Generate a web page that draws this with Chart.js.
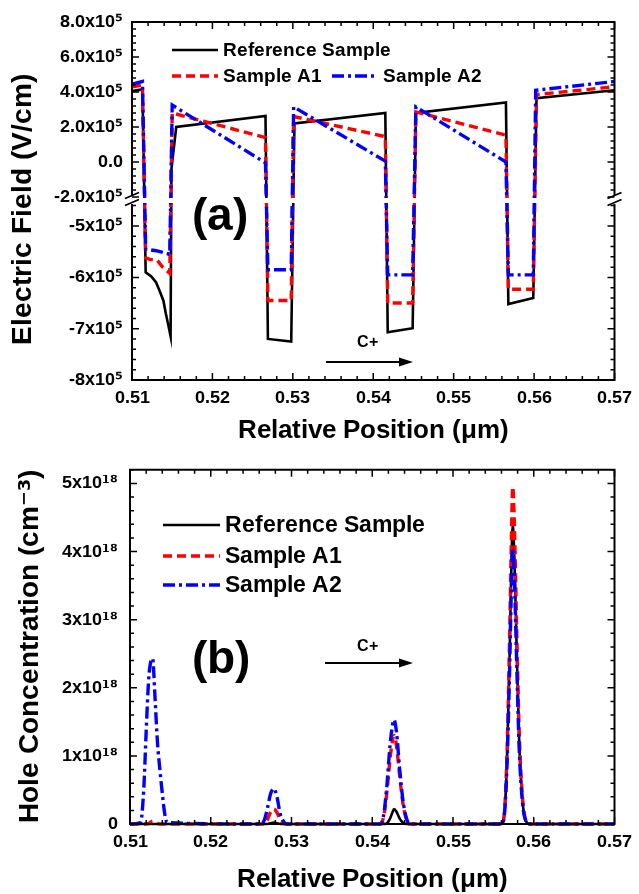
<!DOCTYPE html>
<html><head><meta charset="utf-8">
<script src="https://cdn.jsdelivr.net/npm/chart.js@4.4.1/dist/chart.umd.min.js"></script>
<style>
@font-face { font-family: 'LabSup'; src: local('Liberation Sans Bold'), local('LiberationSans-Bold'); font-weight: bold; }
@font-face { font-family: 'LabSup'; src: local('DejaVu Sans Bold'), local('DejaVuSans-Bold'); font-weight: bold; unicode-range: U+00B2-00B3, U+00B9, U+2070-209F; }
html,body{margin:0;padding:0;background:#fff;}
#wrap{position:relative;width:639px;height:894px;overflow:hidden;}
.box{position:absolute;left:0;width:639px;height:447px;}
</style></head><body>
<div id="wrap">
<div class="box" style="top:0"><canvas id="cA" width="639" height="447"></canvas></div>
<div class="box" style="top:447px"><canvas id="cB" width="639" height="447"></canvas></div>
</div>
<script>
// ---------------- DATA ----------------
const seriesNames = ['Reference Sample', 'Sample A1', 'Sample A2'];

// (a) Electric field, units of 1e5 V/cm, position in µm
const refPosA   = [0.5100,0.5113,0.5117,0.5124,0.5130,0.5134,0.5139,0.5142,0.5145,0.5148,0.5149,0.5155,0.5266,0.5269,0.5298,0.5302,0.5415,0.5418,0.5449,0.5453,0.5565,0.5568,0.5599,0.5603,0.5700];
const refFieldA = [4.05,4.15,-5.9,-5.98,-6.1,-6.25,-6.45,-6.7,-6.92,-7.15,-0.4,2.0,2.63,-7.2,-7.25,2.2,2.8,-7.07,-6.99,2.8,3.4,-6.52,-6.4,3.65,4.1];
const a1PosA    = [0.5100,0.5113,0.5117,0.5122,0.5131,0.5138,0.5147,0.5150,0.5266,0.5269,0.5298,0.5301,0.5415,0.5418,0.5449,0.5453,0.5565,0.5568,0.5599,0.5603,0.5700];
const a1FieldA  = [4.3,4.4,-5.62,-5.65,-5.66,-5.8,-5.92,2.8,1.4,-6.45,-6.45,2.6,1.45,-6.5,-6.5,2.86,1.54,-6.23,-6.23,3.85,4.3];
const a2PosA    = [0.5100,0.5113,0.5117,0.5130,0.5147,0.5150,0.5266,0.5269,0.5298,0.5301,0.5415,0.5418,0.5449,0.5453,0.5565,0.5568,0.5599,0.5602,0.5700];
const a2FieldA  = [4.45,4.6,-5.45,-5.48,-5.55,3.25,-0.05,-5.85,-5.85,3.15,0.05,-5.95,-5.95,3.15,0.0,-5.95,-5.95,4.1,4.6];

// (b) Hole concentration, units of 1e18 cm^-3
const posB = [0.5100,
  0.5113,0.5117,0.5120,0.5123,0.5126,0.5128,0.5131,0.5134,0.5137,0.5140,0.5143,0.5146,
  0.5262,0.5266,0.5270,0.5274,0.5278,0.5282,0.5286,0.5290,0.5294,
  0.5410,0.5414,0.5418,0.5422,0.5425,0.5427,0.5430,0.5434,0.5438,0.5442,0.5446,
  0.5560,0.5564,0.5567,0.5570,0.5572,0.5574,0.5576,0.5579,0.5582,0.5586,0.5590,0.5595,
  0.5700];
const refHoleB = [0,
  0,0,0,0,0,0,0,0,0,0,0,0,
  0,0,0,0.01,0.02,0.01,0,0,0,
  0,0,0.01,0.08,0.17,0.22,0.18,0.08,0.02,0,0,
  0,0.2,1.0,2.4,3.6,4.4,3.9,2.5,1.2,0.35,0.05,0,
  0];
const a1HoleB = [0,
  0,0,0,0.01,0.03,0.04,0.03,0.01,0,0,0,0,
  0,0,0.06,0.17,0.22,0.17,0.06,0.01,0,
  0,0.1,0.45,0.95,1.22,1.3,1.15,0.7,0.3,0.08,0,
  0,0.22,1.1,2.7,4.0,4.95,4.4,2.8,1.35,0.4,0.06,0,
  0];
const a2HoleB = [0,
  0.02,0.5,1.35,2.1,2.4,2.43,1.85,1.2,0.8,0.45,0.15,0.02,
  0,0.05,0.22,0.44,0.52,0.4,0.15,0.04,0,
  0,0.12,0.55,1.15,1.45,1.53,1.35,0.8,0.35,0.1,0,
  0,0.18,0.9,2.2,3.3,4.05,3.6,2.3,1.1,0.32,0.05,0,
  0];

// ticks
const xTicks = [0.51,0.52,0.53,0.54,0.55,0.56,0.57];
const xTickLabels = ['0.51','0.52','0.53','0.54','0.55','0.56','0.57'];
const yTicksA = [8,6,4,2,0,-2,-5,-6,-7,-8];
const yTickLabelsA = ['8.0x10\u2075','6.0x10\u2075','4.0x10\u2075','2.0x10\u2075','0.0','-2.0x10\u2075','-5x10\u2075','-6x10\u2075','-7x10\u2075','-8x10\u2075'];
const yTicksB = [0,1,2,3,4,5];
const yTickLabelsB = ['0','1x10\u00b9\u2078','2x10\u00b9\u2078','3x10\u00b9\u2078','4x10\u00b9\u2078','5x10\u00b9\u2078'];

// ---------------- STYLE / HELPERS ----------------
const FONT = 'LabSup, "Liberation Sans", Arial, Helvetica, sans-serif';
const styles = [
  {color:'#000000', width:2.6, dash:[]},
  {color:'#ff0000', width:3.4, dash:[9,5]},
  {color:'#0000ff', width:3.4, dash:[12,4,3,4]}
];

// broken y axis: lower part [-8,-4.55], upper part [-2, 8]
const BRK = {lowMin:-8, lowMax:-4.55, upMin:-2, upMax:8, lowFrac:177/358, upFrac:183/358};
class BrokenScale extends Chart.LinearScale {
  static id = 'broken';
  getPixelForValue(v) {
    const b = BRK; let d;
    if (v <= b.lowMax) d = (v - b.lowMin) / (b.lowMax - b.lowMin) * b.lowFrac;
    else if (v >= b.upMin) d = b.upFrac + (v - b.upMin) / (b.upMax - b.upMin) * (1 - b.upFrac);
    else d = b.lowFrac + (v - b.lowMax) / (b.upMin - b.lowMax) * (b.upFrac - b.lowFrac);
    return this.getPixelForDecimal(d);
  }
  getValueForPixel(p) {
    const b = BRK; const d = this.getDecimalForPixel(p);
    if (d <= b.lowFrac) return b.lowMin + d / b.lowFrac * (b.lowMax - b.lowMin);
    if (d >= b.upFrac) return b.upMin + (d - b.upFrac) / (1 - b.upFrac) * (b.upMax - b.upMin);
    return b.lowMax + (d - b.lowFrac) / (b.upFrac - b.lowFrac) * (b.upMin - b.lowMax);
  }
}
Chart.register(BrokenScale);

function rangeMinor(start, step, count, every) {
  const out = [];
  for (let i = 0; i <= count; i++) if (i % every !== 0) out.push(start + i * step);
  return out;
}
const xMinor = rangeMinor(0.51, 0.002, 30, 5);

const framePlugin = {
  id: 'frame',
  afterDatasetsDraw(chart, args, o) {
    const {ctx, chartArea: a} = chart;
    const xs = chart.scales.x, ys = chart.scales.y;
    ctx.save();
    let gT = null, gB = null;
    if (o.gap) {
      gT = ys.getPixelForValue(o.gap[1]);
      gB = ys.getPixelForValue(o.gap[0]);
      ctx.fillStyle = '#fff';
      ctx.fillRect(a.left - 3, gT + 1, a.right - a.left + 6, gB - gT - 1);
    }
    ctx.strokeStyle = '#000';
    ctx.lineCap = 'butt';
    ctx.beginPath(); ctx.lineWidth = 1.5;
    const hx = (v, L) => { const p = xs.getPixelForValue(v); ctx.moveTo(p, a.bottom); ctx.lineTo(p, a.bottom - L); ctx.moveTo(p, a.top); ctx.lineTo(p, a.top + L); };
    const hy = (v, L) => { const p = ys.getPixelForValue(v); ctx.moveTo(a.left, p); ctx.lineTo(a.left + L, p); ctx.moveTo(a.right, p); ctx.lineTo(a.right - L, p); };
    o.xMajor.forEach(v => hx(v, 7)); o.xMinor.forEach(v => hx(v, 4));
    o.yMajor.forEach(v => hy(v, 7)); o.yMinor.forEach(v => hy(v, 4));
    ctx.stroke();
    ctx.beginPath(); ctx.lineWidth = 2;
    ctx.moveTo(a.left - 1, a.top); ctx.lineTo(a.right + 1, a.top);
    ctx.moveTo(a.left - 1, a.bottom); ctx.lineTo(a.right + 1, a.bottom);
    if (o.gap) {
      [a.left, a.right].forEach(x => { ctx.moveTo(x, a.top); ctx.lineTo(x, gT - 1); ctx.moveTo(x, gB + 1); ctx.lineTo(x, a.bottom); });
    } else {
      [a.left, a.right].forEach(x => { ctx.moveTo(x, a.top); ctx.lineTo(x, a.bottom); });
    }
    ctx.stroke();
    if (o.gap) {
      ctx.beginPath(); ctx.lineWidth = 1.8;
      [a.left, a.right].forEach(x => {
        ctx.moveTo(x - 7, gT + 1.5); ctx.lineTo(x + 7, gT - 4.5);
        ctx.moveTo(x - 7, gB + 2.5); ctx.lineTo(x + 7, gB - 3.5);
      });
      ctx.stroke();
    }
    ctx.restore();
  }
};

const decorPlugin = {
  id: 'decor',
  afterDraw(chart, args, o) {
    const ctx = chart.ctx;
    ctx.save();
    ctx.textBaseline = 'middle'; ctx.textAlign = 'left'; ctx.fillStyle = '#000';
    o.legend.forEach(it => {
      const ds = chart.data.datasets[it.ds];
      ctx.beginPath();
      ctx.setLineDash(ds.borderDash || []);
      ctx.lineWidth = ds.borderWidth; ctx.strokeStyle = ds.borderColor;
      ctx.moveTo(it.x1, it.y); ctx.lineTo(it.x2, it.y); ctx.stroke();
      ctx.setLineDash([]);
      ctx.font = 'bold ' + o.legendSize + 'px ' + FONT;
      ctx.fillText(ds.label, it.tx, it.y + 1);
    });
    ctx.textAlign = 'center';
    ctx.font = 'bold ' + o.panel.size + 'px ' + FONT;
    ctx.fillText(o.panel.text, o.panel.x, o.panel.y);
    ctx.font = 'bold 16px ' + FONT;
    ctx.fillText('C+', o.arrow.tx, o.arrow.ty);
    ctx.strokeStyle = '#000'; ctx.lineWidth = 2;
    ctx.beginPath(); ctx.moveTo(o.arrow.x1, o.arrow.y); ctx.lineTo(o.arrow.x2 - 8, o.arrow.y); ctx.stroke();
    ctx.beginPath(); ctx.moveTo(o.arrow.x2, o.arrow.y); ctx.lineTo(o.arrow.x2 - 14, o.arrow.y - 4.5); ctx.lineTo(o.arrow.x2 - 14, o.arrow.y + 4.5); ctx.closePath(); ctx.fill();
    ctx.restore();
  }
};

function mkDatasets(xArrs, yArrs, smooth) {
  return seriesNames.map((name, i) => ({
    label: name,
    data: xArrs[i].map((x, k) => ({x: x, y: yArrs[i][k]})),
    borderColor: styles[i].color,
    backgroundColor: styles[i].color,
    borderWidth: styles[i].width,
    borderDash: styles[i].dash,
    pointRadius: 0,
    fill: false,
    tension: smooth ? 0.4 : 0,
    cubicInterpolationMode: smooth ? 'monotone' : 'default',
    clip: 6,
    order: 2 - i
  }));
}

const tickFont = {family: FONT, size: 18, weight: 'bold'};

function xScale(height, titlePad) {
  return {
    type: 'linear', min: 0.51, max: 0.57,
    afterBuildTicks: s => { s.ticks = xTicks.map(v => ({value: v})); },
    afterFit: s => { s.height = height; },
    grid: {display: false, drawTicks: false}, border: {display: false},
    ticks: {font: tickFont, color: '#000', padding: 7, maxRotation: 0, autoSkip: false,
      callback: v => xTickLabels[xTicks.indexOf(v)]},
    title: {display: true, text: 'Relative Position (\u03bcm)', color: '#000',
      font: {family: FONT, size: 26, weight: 'bold', lineHeight: 1}, padding: {top: 0, bottom: titlePad}}
  };
}

function build() {
  if (window.__built) return; window.__built = true;
  // ---------------- CHART (a) ----------------
  new Chart(document.getElementById('cA'), {
    type: 'line',
    data: {datasets: mkDatasets([refPosA, a1PosA, a2PosA], [refFieldA, a1FieldA, a2FieldA], false)},
    options: {
      responsive: false, animation: false, devicePixelRatio: 1, events: [],
      layout: {padding: {left: 0, right: 19, top: 22, bottom: 0}},
      scales: {
        x: xScale(67, 3),
        y: {
          type: 'broken', min: -8, max: 8,
          afterBuildTicks: s => { s.ticks = yTicksA.map(v => ({value: v})); },
          afterFit: s => { s.width = 132; },
          grid: {display: false, drawTicks: false}, border: {display: false},
          ticks: {font: tickFont, color: '#000', padding: 9, autoSkip: false,
            callback: v => yTickLabelsA[yTicksA.indexOf(v)]},
          title: {display: true, text: 'Electric Field (V/cm)  ', color: '#000',
            font: {family: FONT, size: 28, weight: 'bold', lineHeight: 1}, padding: {top: 9, bottom: 0}}
        }
      },
      plugins: {
        legend: {display: false}, tooltip: {enabled: false},
        frame: {gap: [BRK.lowMax, BRK.upMin], xMajor: xTicks, xMinor: xMinor, yMajor: yTicksA,
          yMinor: rangeMinor(-2, 0.4, 25, 5).concat(rangeMinor(-8, 0.2, 17, 5))},
        decor: {
          legendSize: 19,
          legend: [{ds: 0, x1: 172, x2: 218, y: 50, tx: 223}, {ds: 1, x1: 172, x2: 218, y: 76, tx: 223}, {ds: 2, x1: 332, x2: 378, y: 76, tx: 383}],
          panel: {text: '(a)', size: 46, x: 220, y: 217},
          arrow: {tx: 367, ty: 343, x1: 326, x2: 413, y: 362}
        }
      }
    },
    plugins: [framePlugin, decorPlugin]
  });

  // ---------------- CHART (b) ----------------
  new Chart(document.getElementById('cB'), {
    type: 'line',
    data: {datasets: mkDatasets([posB, posB, posB], [refHoleB, a1HoleB, a2HoleB], true)},
    options: {
      responsive: false, animation: false, devicePixelRatio: 1, events: [],
      layout: {padding: {left: 0, right: 19, top: 17, bottom: 0}},
      scales: {
        x: xScale(70, 1),
        y: {
          type: 'linear', min: 0, max: 5.2,
          afterBuildTicks: s => { s.ticks = yTicksB.map(v => ({value: v})); },
          afterFit: s => { s.width = 130; },
          grid: {display: false, drawTicks: false}, border: {display: false},
          ticks: {font: tickFont, color: '#000', padding: 12, autoSkip: false,
            callback: v => yTickLabelsB[yTicksB.indexOf(v)]},
          title: {display: true, text: 'Hole Concentration (cm\u207b\u00b3)', color: '#000',
            font: {family: FONT, size: 28, weight: 'bold', lineHeight: 1}, padding: {top: 16, bottom: 0}}
        }
      },
      plugins: {
        legend: {display: false}, tooltip: {enabled: false},
        frame: {gap: null, xMajor: xTicks, xMinor: xMinor, yMajor: yTicksB, yMinor: rangeMinor(0, 0.2, 26, 5)},
        decor: {
          legendSize: 23,
          legend: [{ds: 0, x1: 163, x2: 220, y: 78, tx: 225}, {ds: 1, x1: 163, x2: 220, y: 109, tx: 225}, {ds: 2, x1: 163, x2: 220, y: 138, tx: 225}],
          panel: {text: '(b)', size: 46, x: 221, y: 213},
          arrow: {tx: 367, ty: 200, x1: 325, x2: 413, y: 216}
        }
      }
    },
    plugins: [framePlugin, decorPlugin]
  });
}

if (document.fonts && document.fonts.load) {
  Promise.all([
    document.fonts.load('bold 18px LabSup', '8.0x10\u2075 0.51'),
    document.fonts.load('bold 18px LabSup', '5x10\u00b9\u2078\u207b\u00b3')
  ]).then(build, build);
  setTimeout(build, 1500);
} else {
  build();
}
</script>
</body></html>
